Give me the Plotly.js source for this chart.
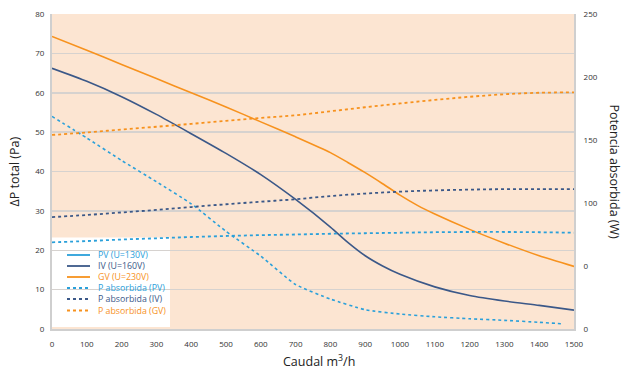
<!DOCTYPE html>
<html>
<head>
<meta charset="utf-8">
<script src="https://cdn.plot.ly/plotly-3.0.1.min.js"></script>
<style>html,body{margin:0;padding:0;background:#fff}#chart{width:631px;height:372px}</style>
</head>
<body>
<div id="chart"></div>
<script>
// Pressure curves (Pa) vs flow (m3/h)
var flowPV = [0,100,200,300,400,500,600,700,800,900,1000,1100,1200,1300,1400,1470];
var pressPV = [54,48.5,42.8,37.4,31.8,24.8,18.5,11.3,7.6,4.9,3.8,3.1,2.6,2.2,1.7,1.3];
var flowIV = [0,100,200,300,400,500,600,700,800,850,900,950,1000,1100,1200,1300,1400,1500];
var pressIV = [66.2,62.9,59.0,54.5,49.6,44.6,39.2,32.9,25.9,22.0,18.6,16.0,13.9,10.7,8.5,7.1,6.0,4.8];
var flowGV = [0,100,200,300,400,500,600,700,800,850,900,950,1000,1050,1100,1200,1300,1400,1500];
var pressGV = [74.3,70.8,67.2,63.6,60.0,56.4,52.6,48.8,44.8,42.3,39.7,36.9,34.0,31.4,29.2,25.3,21.8,18.6,15.9];
// Absorbed power (W) vs flow
var flowP = [0,100,200,300,400,500,600,700,800,900,1000,1100,1200,1300,1400,1500];
var powerPV = [68.8,69.8,71.0,72.0,73.0,73.8,74.5,75.0,75.6,76.0,76.4,76.8,77.0,77.0,76.8,76.4];
var powerIV = [88.8,90.5,92.5,94.5,96.8,99.0,101.0,103.0,105.5,107.5,109.0,110.0,110.6,111.0,111.0,111.0];
var powerGV = [154,156,158.3,160.5,162.8,165.2,167.5,169.6,172.8,176,179,181.8,184.3,186.3,187.5,187.8];

var xTicks = [0,100,200,300,400,500,600,700,800,900,1000,1100,1200,1300,1400,1500];
var yTicks = [0,10,20,30,40,50,60,70,80];
var y2Ticks = [0,50,100,150,200,250];
var y2TickText = ['0','0','100','150','200','250'];

var legendNames = ['PV (U=130V)','IV (U=160V)','GV (U=230V)','P absorbida (PV)','P absorbida (IV)','P absorbida (GV)'];

var cPV = '#2aa0da', cIV = '#3b5888', cGV = '#f7921e';
var legendColors = [cPV,cIV,cGV,cPV,cIV,cGV];
var legendDash = ['solid','solid','solid','3px,3px','3px,3px','3px,3px'];

var dash = '3px,3px';
var traces = [
  {x: flowPV, y: pressPV, mode:'lines', line:{color:cPV, width:1.6, dash:dash, shape:'spline', smoothing:0.5}, yaxis:'y'},
  {x: flowIV, y: pressIV, mode:'lines', line:{color:cIV, width:1.6, shape:'spline', smoothing:0.6}, yaxis:'y'},
  {x: flowGV, y: pressGV, mode:'lines', line:{color:cGV, width:1.6, shape:'spline', smoothing:0.6}, yaxis:'y'},
  {x: flowP, y: powerPV, mode:'lines', line:{color:cPV, width:1.8, dash:dash, shape:'spline'}, yaxis:'y2'},
  {x: flowP, y: powerIV, mode:'lines', line:{color:cIV, width:1.8, dash:dash, shape:'spline'}, yaxis:'y2'},
  {x: flowP, y: powerGV, mode:'lines', line:{color:cGV, width:1.8, dash:dash, shape:'spline'}, yaxis:'y2'}
];
traces.forEach(function(t){ t.showlegend = false; t.hoverinfo = 'skip'; });

// manual legend
var W = 522, H = 315;
function px2x(p){ return (p - 52) / W; }
function py2y(p){ return (329 - p) / H; }
var rowsPy = [255, 266, 277, 288, 299, 310.5];
var shapes = [{
  type:'rect', xref:'paper', yref:'paper', layer:'between',
  x0:0, x1:px2x(170), y0:py2y(327), y1:py2y(237.5),
  fillcolor:'#ffffff', line:{width:0}
}];
var annotations = [];
legendNames.forEach(function(n, i){
  shapes.push({type:'line', xref:'paper', yref:'paper', layer:'above',
    x0:px2x(67), x1:px2x(90), y0:py2y(rowsPy[i]), y1:py2y(rowsPy[i]),
    line:{color:legendColors[i], width:1.8, dash:legendDash[i]}});
  annotations.push({xref:'paper', yref:'paper', x:px2x(96), y:py2y(rowsPy[i]),
    xanchor:'left', yanchor:'middle', showarrow:false, text:n,
    font:{family:'Open Sans, sans-serif', size:8.8, color:legendColors[i]}});
});
annotations.push({xref:'paper', yref:'paper', x:px2x(14), y:0.5, textangle:-90,
  showarrow:false, text:'ΔP total (Pa)', xanchor:'center', yanchor:'middle',
  font:{family:'Open Sans, sans-serif', size:12.5, color:'#222'}});
annotations.push({xref:'paper', yref:'paper', x:px2x(614), y:0.5, textangle:90,
  showarrow:false, text:'Potencia absorbida (W)', xanchor:'center', yanchor:'middle',
  font:{family:'Open Sans, sans-serif', size:12.5, color:'#222'}});
annotations.push({xref:'paper', yref:'paper', x:px2x(319), y:py2y(361),
  showarrow:false, text:'Caudal m<sup>3</sup>/h', xanchor:'center', yanchor:'middle',
  font:{family:'Open Sans, sans-serif', size:12.5, color:'#222'}});

var tickFont = {family:'Open Sans, sans-serif', size:8, color:'#333'};
var layout = {
  width:631, height:372,
  margin:{l:52, r:57, t:14, b:43, pad:0},
  paper_bgcolor:'#ffffff', plot_bgcolor:'#fce5d2',
  showlegend:false,
  xaxis:{range:[0,1500], tickvals:xTicks, ticks:'', showgrid:false, zeroline:false,
    showline:true, linecolor:'#cfcfcf', linewidth:2, tickfont:tickFont, ticklabelstandoff:6},
  yaxis:{range:[0,80], tickvals:yTicks, ticks:'', showgrid:true, gridcolor:'#d6d2cf', gridwidth:1.5,
    zeroline:false, showline:true, linecolor:'#cfcfcf', linewidth:2, tickfont:tickFont, ticklabelstandoff:4},
  yaxis2:{range:[0,250], tickvals:y2Ticks, ticktext:y2TickText, overlaying:'y', side:'right',
    ticks:'', showgrid:false, zeroline:false, showline:true, linecolor:'#cfcfcf', linewidth:2,
    tickfont:tickFont, ticklabelstandoff:6},
  shapes:shapes,
  annotations:annotations
};
Plotly.newPlot('chart', traces, layout, {staticPlot:true, displayModeBar:false});
</script>
</body>
</html>
